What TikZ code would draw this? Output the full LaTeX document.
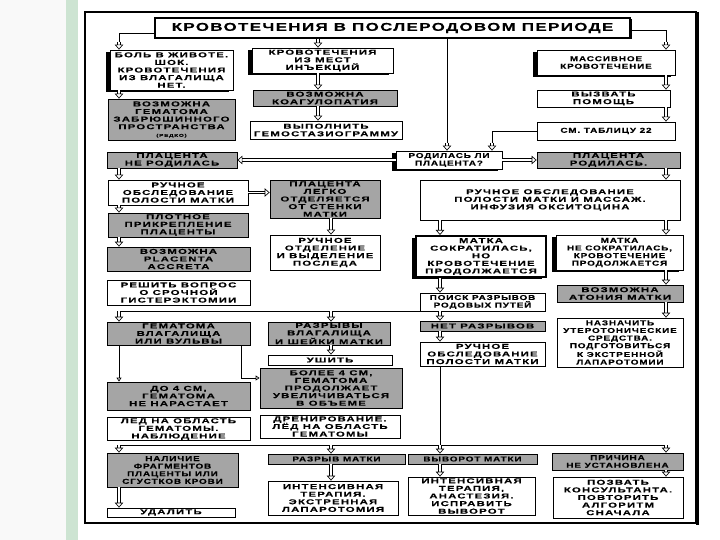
\documentclass[tikz,border=0pt]{standalone}
\usepackage{fontspec}
\setmainfont{Liberation Sans}
\newfontfamily\dfont{Liberation Sans Bold}[FakeStretch=1.6, LetterSpace=17, FakeBold=0.3]
\newfontfamily\nfont{Liberation Sans Bold}[FakeStretch=1.4, LetterSpace=12, FakeBold=0.3]
\newfontfamily\tfont{Liberation Sans Bold}[FakeStretch=1.5, LetterSpace=12, FakeBold=0.3]
\usetikzlibrary{arrows.meta,shadows,calc}
\newcommand\boxfont{\dfont\fontsize{7.1}{7.6}\selectfont}
\newcommand\narrowfont{\nfont\fontsize{7.1}{7.6}\selectfont}
\newcommand\bx[7]{\node[#1, minimum width={(#5-#3)*1pt}, minimum height={(#6-#4)*1pt}] (#2) at ({(#3+#5)/2},{(#4+#6)/2}) {#7};}
\definecolor{boxgray}{RGB}{165,165,165}
\definecolor{stripe}{RGB}{205,228,210}
\tikzset{
  base/.style={draw, line width=0.8pt, inner sep=0pt, align=center, font=\boxfont, text=black},
  wb/.style={base, fill=white, drop shadow={shadow xshift=1pt, shadow yshift=-1pt, fill=black!70, opacity=1}},
  gb/.style={base, fill=boxgray, drop shadow={shadow xshift=1pt, shadow yshift=-1pt, fill=black!70, opacity=1}},
  sb/.style={base, fill=white, drop shadow={shadow xshift=-4pt, shadow yshift=-2pt, fill=black, opacity=1}},
  nar/.style={font=\narrowfont},
  darr/.style={double, double distance=1.8pt, line width=0.65pt, -{Triangle[open, length=5pt, width=8.5pt, line width=0.65pt]}},
  sarr/.style={line width=0.7pt, -{Triangle[open, length=4pt, width=5pt]}},
  ln/.style={line width=0.7pt}
}
\begin{document}
\begin{tikzpicture}[x=1pt, y=-1pt]
\useasboundingbox (0,0) rectangle (720,540);
% page decoration
\fill[gray!5] (0,0) rectangle (66,540);
\fill[stripe] (66,0) rectangle (78,540);
% outer frame
\draw[line width=1.4pt] (85,12) rectangle (696,523);
\fill[black] (696,12) rectangle (698.5,525);
% columns
\coordinate (cA) at (119,0);
\coordinate (cB) at (318,0);
\coordinate (cC) at (331,0);
\coordinate (cD) at (447,0);
\coordinate (cE) at (440,0);
\coordinate (cF) at (492,0);
\coordinate (cG) at (666,0);
\coordinate (cH) at (241,0);
\coordinate (busB) at (0,445);
% boxes
\node[base, fill=white, minimum width=475pt, minimum height=20pt, line width=1.2pt, font=\tfont\fontsize{11.3}{12}\selectfont, drop shadow={shadow xshift=1.5pt, shadow yshift=-1.5pt, fill=black, opacity=1}] (title) at (392.5,28) {КРОВОТЕЧЕНИЯ В ПОСЛЕРОДОВОМ ПЕРИОДЕ};
\bx{sb}{bol}{110}{50}{233}{90}{БОЛЬ В ЖИВОТЕ.\\ШОК.\\КРОВОТЕЧЕНИЯ\\ИЗ ВЛАГАЛИЩА\\НЕТ.}
\bx{gb}{gz}{108}{99}{235}{140}{ВОЗМОЖНА\\ГЕМАТОМА\\ЗАБРЮШИННОГО\\ПРОСТРАНСТВА\\{\fontsize{4}{5}\selectfont(РЕДКО)}}
\bx{sb}{inj}{252}{48}{393}{73}{КРОВОТЕЧЕНИЯ\\ИЗ МЕСТ\\ИНЪЕКЦИЙ}
\bx{gb}{koag}{253}{90}{397}{106}{ВОЗМОЖНА\\КОАГУЛОПАТИЯ}
\bx{wb}{gem}{250}{121}{402}{139}{ВЫПОЛНИТЬ\\ГЕМОСТАЗИОГРАММУ}
\bx{sb,nar}{mass}{537}{50}{675}{75}{МАССИВНОЕ\\КРОВОТЕЧЕНИЕ}
\bx{wb}{help}{537}{90}{670}{107}{ВЫЗВАТЬ\\ПОМОЩЬ}
\bx{wb,nar}{tab}{537}{122}{675}{140}{СМ. ТАБЛИЦУ 22}
\bx{sb,nar}{rod}{396}{151}{502}{169}{РОДИЛАСЬ ЛИ\\ПЛАЦЕНТА?}
\bx{gb}{nerod}{107}{152}{237}{168}{ПЛАЦЕНТА\\НЕ РОДИЛАСЬ}
\bx{gb}{prod}{537}{152}{680}{168}{ПЛАЦЕНТА\\РОДИЛАСЬ.}
\bx{wb}{ruch1}{108}{180}{248}{205}{РУЧНОЕ\\ОБСЛЕДОВАНИЕ\\ПОЛОСТИ МАТКИ}
\bx{gb}{legko}{270}{180}{380}{218}{ПЛАЦЕНТА\\ЛЕГКО\\ОТДЕЛЯЕТСЯ\\ОТ СТЕНКИ\\МАТКИ}
\bx{wb}{bigr}{420}{180}{680}{220}{РУЧНОЕ ОБСЛЕДОВАНИЕ\\ПОЛОСТИ МАТКИ И МАССАЖ.\\ИНФУЗИЯ ОКСИТОЦИНА}
\bx{gb}{plot}{108}{213}{248}{237}{ПЛОТНОЕ\\ПРИКРЕПЛЕНИЕ\\ПЛАЦЕНТЫ}
\bx{wb}{otd}{270}{235}{380}{270}{РУЧНОЕ\\ОТДЕЛЕНИЕ\\И ВЫДЕЛЕНИЕ\\ПОСЛЕДА}
\bx{sb, line width=2pt}{sokr}{416}{236}{546}{277}{МАТКА\\СОКРАТИЛАСЬ,\\НО\\КРОВОТЕЧЕНИЕ\\ПРОДОЛЖАЕТСЯ}
\bx{sb,nar}{nesokr}{556}{235}{683}{270}{МАТКА\\НЕ СОКРАТИЛАСЬ,\\КРОВОТЕЧЕНИЕ\\ПРОДОЛЖАЕТСЯ}
\bx{gb}{accr}{107}{247}{250}{271}{ВОЗМОЖНА\\PLACENTA\\ACCRETA}
\bx{wb}{resh}{107}{280}{250}{305}{РЕШИТЬ ВОПРОС\\О СРОЧНОЙ\\ГИСТЕРЭКТОМИИ}
\bx{wb,nar}{poisk}{420}{293}{545}{311}{ПОИСК РАЗРЫВОВ\\РОДОВЫХ ПУТЕЙ}
\bx{gb}{aton}{557}{285}{683}{302}{ВОЗМОЖНА\\АТОНИЯ МАТКИ}
\bx{gb}{gemv}{107}{322}{250}{345}{ГЕМАТОМА\\ВЛАГАЛИЩА\\ИЛИ ВУЛЬВЫ}
\bx{gb}{razr}{268}{322}{390}{345}{РАЗРЫВЫ\\ВЛАГАЛИЩА\\И ШЕЙКИ МАТКИ}
\bx{gb}{net}{420}{321}{545}{331}{НЕТ РАЗРЫВОВ}
\bx{wb,nar}{naz}{557}{318}{683}{367}{НАЗНАЧИТЬ\\УТЕРОТОНИЧЕСКИЕ\\СРЕДСТВА.\\ПОДГОТОВИТЬСЯ\\К ЭКСТРЕННОЙ\\ЛАПАРОТОМИИ}
\bx{wb}{ush}{268}{355}{392}{365}{УШИТЬ}
\bx{wb}{ruch2}{420}{342}{545}{366}{РУЧНОЕ\\ОБСЛЕДОВАНИЕ\\ПОЛОСТИ МАТКИ}
\bx{gb}{do4}{107}{382}{250}{410}{ДО 4 СМ,\\ГЕМАТОМА\\НЕ НАРАСТАЕТ}
\bx{gb}{bol4}{260}{368}{402}{408}{БОЛЕЕ 4 СМ,\\ГЕМАТОМА\\ПРОДОЛЖАЕТ\\УВЕЛИЧИВАТЬСЯ\\В ОБЪЕМЕ}
\bx{wb}{led}{107}{417}{250}{440}{ЛЁД НА ОБЛАСТЬ\\ГЕМАТОМЫ.\\НАБЛЮДЕНИЕ}
\bx{wb}{dren}{260}{415}{400}{438}{ДРЕНИРОВАНИЕ.\\ЛЁД НА ОБЛАСТЬ\\ГЕМАТОМЫ}
\bx{gb,nar}{nal}{107}{453}{238}{487}{НАЛИЧИЕ\\ФРАГМЕНТОВ\\ПЛАЦЕНТЫ ИЛИ\\СГУСТКОВ КРОВИ}
\bx{wb}{udal}{107}{508}{235}{517}{УДАЛИТЬ}
\bx{gb,nar}{rm}{268}{454}{405}{464}{РАЗРЫВ МАТКИ}
\bx{wb}{int1}{268}{481}{398}{515}{ИНТЕНСИВНАЯ\\ТЕРАПИЯ.\\ЭКСТРЕННАЯ\\ЛАПАРОТОМИЯ}
\bx{gb,nar}{vyv}{408}{454}{537}{464}{ВЫВОРОТ МАТКИ}
\bx{wb}{int2}{408}{477}{535}{515}{ИНТЕНСИВНАЯ\\ТЕРАПИЯ,\\АНАСТЕЗИЯ.\\ИСПРАВИТЬ\\ВЫВОРОТ}
\bx{gb,nar}{prich}{552}{453}{683}{470}{ПРИЧИНА\\НЕ УСТАНОВЛЕНА}
\bx{wb}{pozv}{553}{477}{683}{518}{ПОЗВАТЬ\\КОНСУЛЬТАНТА.\\ПОВТОРИТЬ\\АЛГОРИТМ\\СНАЧАЛА}
% connectors from title
\draw[ln] ([yshift=-5pt]title.west) -| ([yshift=8pt]bol.north -| cA);
\draw[darr] ([yshift=8pt]bol.north -| cA) -- (bol.north -| cA);
\draw[ln] ([yshift=-2pt]title.east) -| ([yshift=8pt]mass.north -| cG);
\draw[darr] ([yshift=8pt]mass.north -| cG) -- (mass.north -| cG);
\draw[darr] (title.south -| cB) -- (inj.north -| cB);
\draw[ln] (title.south -| cD) -- ([yshift=8pt]rod.north -| cD);
\draw[darr] ([yshift=8pt]rod.north -| cD) -- (rod.north -| cD);
\draw[ln] (tab.west) -| ([yshift=8pt]rod.north -| cF);
\draw[darr] ([yshift=8pt]rod.north -| cF) -- (rod.north -| cF);
% top columns
\draw[darr] (bol.south -| cA) -- (gz.north -| cA);
\draw[darr] (inj.south -| cB) -- (koag.north -| cB);
\draw[darr] (koag.south -| cB) -- (gem.north -| cB);
\draw[darr] (mass.south -| cG) -- (help.north -| cG);
\draw[darr] (help.south -| cG) -- (tab.north -| cG);
% placenta
\draw[darr] (rod.west) -- (rod.west -| nerod.east);
\draw[darr] (rod.east) -- (rod.east -| prod.west);
\draw[darr] (nerod.south -| cA) -- (ruch1.north -| cA);
\draw[darr] (ruch1.east) -- (ruch1.east -| legko.west);
\draw[darr] (ruch1.south -| cA) -- (plot.north -| cA);
\draw[darr] (plot.south -| cA) -- (accr.north -| cA);
\draw[darr] (legko.south -| cC) -- (otd.north -| cC);
\draw[darr] (prod.south -| cG) -- (bigr.north -| cG);
\draw[darr] (bigr.south -| cE) -- (sokr.north -| cE);
\draw[darr] (bigr.south -| cG) -- (nesokr.north -| cG);
\draw[darr] (sokr.south -| cE) -- (poisk.north -| cE);
\draw[darr] (nesokr.south -| cG) -- (aton.north -| cG);
\draw[darr] (aton.south -| cG) -- (naz.north -| cG);
% bus at poisk
\draw[ln] (poisk.south east) -- (poisk.south -| cA);
\draw[darr] (poisk.south -| cA) -- (gemv.north -| cA);
\draw[darr] (poisk.south -| cC) -- (razr.north -| cC);
\draw[darr] (poisk.south -| cE) -- (net.north -| cE);
\draw[darr] (razr.south -| cC) -- (ush.north -| cC);
\draw[darr] (net.south -| cE) -- (ruch2.north -| cE);
% hematoma
\draw[sarr] (gemv.south -| cA) -- (do4.north -| cA);
\draw[sarr] (gemv.south -| cH) |- ([yshift=10pt]bol4.west);
% lower bus
\draw[ln] (ruch2.south -| cE) -- (busB -| cE);
\draw[ln] (busB -| cA) -- (busB -| cG);
\draw[darr] (busB -| cA) -- (nal.north -| cA);
\draw[darr] (busB -| cC) -- (rm.north -| cC);
\draw[darr] (busB -| cE) -- (vyv.north -| cE);
\draw[darr] (busB -| cG) -- (prich.north -| cG);
\draw[darr] (nal.south -| cA) -- (udal.north -| cA);
\draw[darr] (rm.south -| cC) -- (int1.north -| cC);
\draw[darr] (vyv.south -| cE) -- (int2.north -| cE);
\draw[darr] (prich.south -| cG) -- (pozv.north -| cG);
\end{tikzpicture}
\end{document}
